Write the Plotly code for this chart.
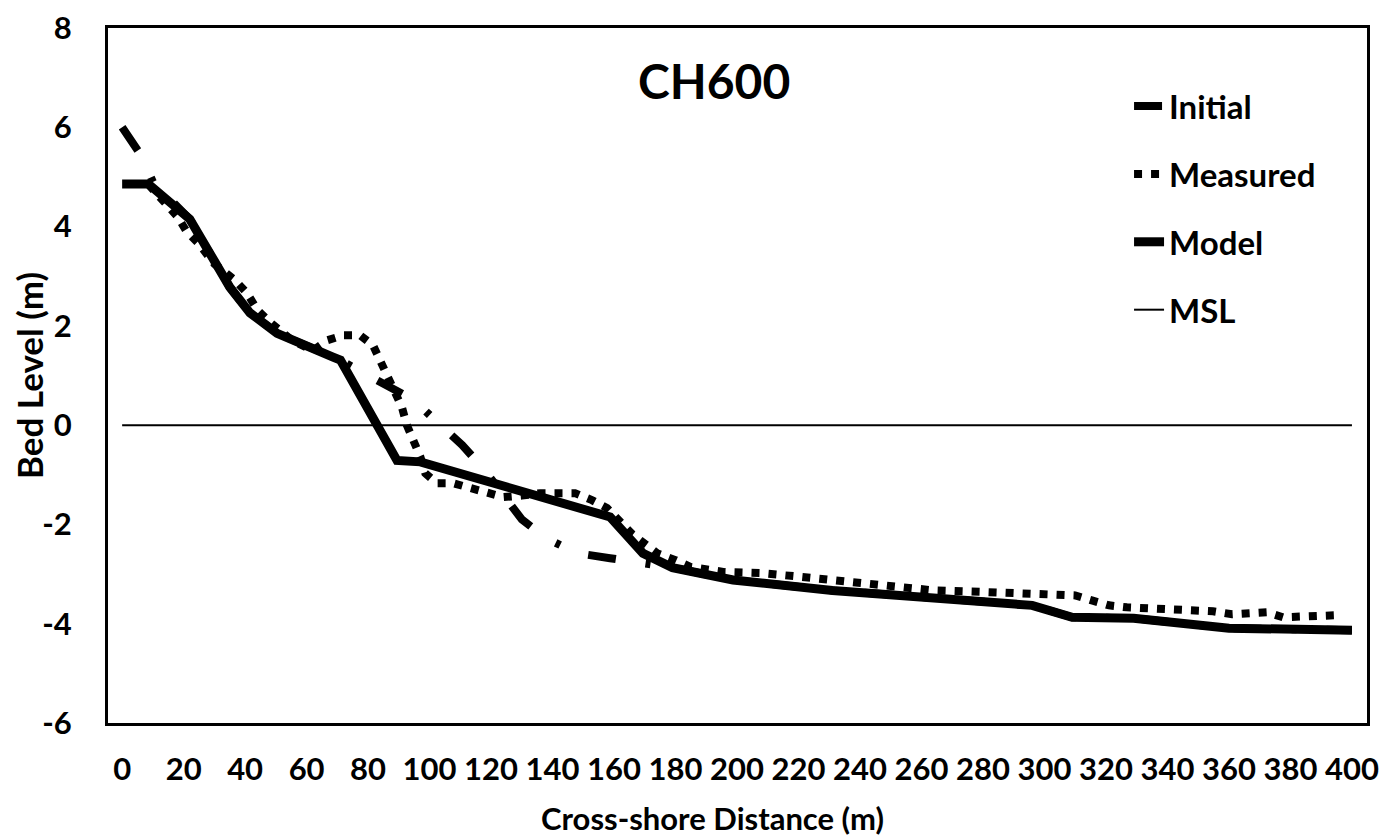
import plotly.graph_objects as go

# cross-shore profile CH600
initial_x = [0, 6, 10, 22, 35, 41.6, 50.4, 68.6, 71, 76.7, 87, 95, 102.8, 110.6, 117.4,
             130, 138, 148, 158.7, 168.5, 179, 198.7, 231, 253, 269, 296, 309, 329, 360, 385, 400]
initial_y = [6.0, 5.45, 4.9, 4.15, 2.78, 2.26, 1.85, 1.37, 1.31, 1.11, 0.77, 0.5, 0.04, -0.4, -0.87,
             -1.9, -2.28, -2.58, -2.68, -2.78, -2.87, -3.12, -3.33, -3.43, -3.5, -3.63, -3.87, -3.89, -4.09, -4.13, -4.13]

measured_x = [8.5, 14, 18, 21, 24.7, 30, 36.7, 40.6, 44, 48, 55, 62, 66.7, 72, 77.4, 81.6, 84, 86,
              91, 92.6, 94.7, 97, 98.6, 102.4, 107.7, 113, 118.7, 124, 130, 136, 141.5, 147.3, 152.8,
              157.7, 166, 174, 180, 185, 196, 207.5, 220, 240, 264, 280, 293, 304, 310, 315.4, 321,
              326.8, 340, 354.8, 361, 366.8, 372.4, 377.6, 383, 388.6, 394.5]
measured_y = [4.85, 4.48, 4.2, 3.9, 3.67, 3.25, 2.92, 2.66, 2.32, 2.08, 1.72, 1.5, 1.71, 1.81, 1.81,
              1.61, 1.31, 1.05, 0.36, 0.0, -0.3, -0.64, -0.97, -1.17, -1.17, -1.27, -1.37, -1.45,
              -1.42, -1.37, -1.37, -1.37, -1.51, -1.67, -2.2, -2.58, -2.72, -2.86, -2.96, -2.98,
              -3.05, -3.17, -3.33, -3.36, -3.39, -3.39, -3.43, -3.53, -3.63, -3.67, -3.69, -3.75,
              -3.81, -3.77, -3.77, -3.87, -3.87, -3.83, -3.83]

model_x = [0, 8.5, 22, 35, 41.6, 50.4, 68.6, 71, 89.4, 97, 158.7, 169.4, 179, 198.7, 231,
           253, 269, 296, 309, 329, 360, 385, 400]
model_y = [4.86, 4.86, 4.15, 2.78, 2.26, 1.85, 1.37, 1.31, -0.71, -0.74, -1.85, -2.58, -2.87,
           -3.12, -3.33, -3.43, -3.5, -3.63, -3.87, -3.89, -4.09, -4.13, -4.13]

msl_x = [0, 400]
msl_y = [0, 0]

x_ticks = list(range(0, 401, 20))
y_ticks = [-6, -4, -2, 0, 2, 4, 6, 8]
y_tick_labels = ["-6", "-4", "-2", "0", "2", "4", "6", "8"]

FONT = "Lato"

fig = go.Figure()

fig.add_trace(go.Scatter(x=initial_x, y=initial_y, mode="lines", name="Initial", legendgroup="a",
                         line=dict(color="black", width=8, dash="28px,30px,5px,30px")))
fig.add_trace(go.Scatter(x=measured_x, y=measured_y, mode="lines", name="Measured", legendgroup="b",
                         line=dict(color="black", width=8, dash="8px,9px")))
fig.add_trace(go.Scatter(x=model_x, y=model_y, mode="lines", name="Model", legendgroup="c",
                         line=dict(color="black", width=9)))
fig.add_trace(go.Scatter(x=msl_x, y=msl_y, mode="lines", name="MSL", legendgroup="d",
                         line=dict(color="black", width=2)))

fig.add_annotation(text="CH600", x=0.481, y=0.925, xref="paper", yref="paper",
                   xanchor="center", yanchor="middle", showarrow=False,
                   font=dict(family=FONT, size=48, color="black", weight="bold"))

# x-axis title sits a little left of the plot centre in the original
fig.add_annotation(text="Cross-shore Distance (m)", x=0.48, y=-0.137, xref="paper", yref="paper",
                   xanchor="center", yanchor="middle", showarrow=False,
                   font=dict(family=FONT, size=31, color="black", weight="bold"))

# the page body adds an 8px offset, so the figure is sized to 1380x829
fig.update_layout(
    width=1380,
    height=829,
    margin=dict(l=100, r=21, t=20, b=114),
    plot_bgcolor="white",
    paper_bgcolor="white",
    font=dict(family=FONT, color="black", weight="bold"),
    legend=dict(x=0.811, y=0.928, xanchor="left", yanchor="top",
                font=dict(family=FONT, size=33, color="black", weight="bold"),
                tracegroupgap=22, bgcolor="rgba(0,0,0,0)"),
    xaxis=dict(range=[-4.6, 404.9], tickvals=x_ticks, showgrid=False, zeroline=False,
               showline=True, mirror=True, linecolor="black", linewidth=3, automargin=False,
               ticks="", ticklabelstandoff=17, tickangle=0, ticklabeloverflow="allow",
               tickfont=dict(family=FONT, size=31, color="black", weight="bold")),
    yaxis=dict(range=[-6, 8], tickvals=y_ticks, ticktext=y_tick_labels, showgrid=False,
               zeroline=False, showline=True, mirror=True, linecolor="black", linewidth=3,
               automargin=False, ticks="", ticklabelstandoff=27, ticklabeloverflow="allow",
               tickfont=dict(family=FONT, size=31, color="black", weight="bold"),
               title=dict(text="Bed Level (m)", standoff=12,
                          font=dict(family=FONT, size=35, color="black", weight="bold"))),
)

fig.write_html("out.html")
